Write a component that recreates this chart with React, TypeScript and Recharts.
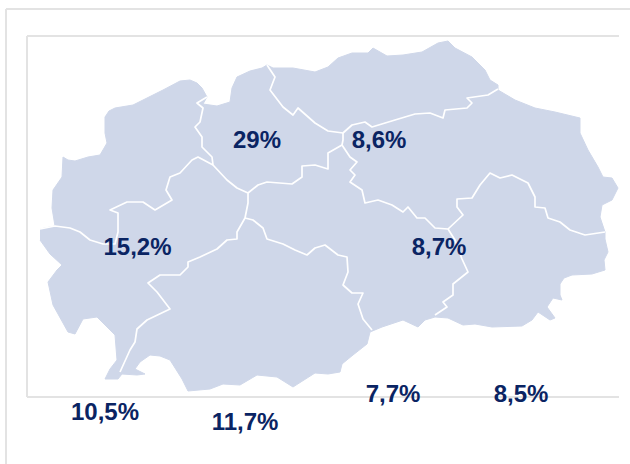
import { ScatterChart, Scatter, XAxis, YAxis, ReferenceLine, LabelList } from 'recharts';

type Pt = [number, number];

const outline: Pt[] = [
  [40, 229], [55, 226], [52, 208], [53, 190], [62, 177], [63, 157], [68, 160], [75, 161], [88, 157], [100, 155],
  [107, 143], [105, 133], [105, 117], [109, 111], [115, 108], [133, 105], [147, 98], [163, 90], [180, 81], [190, 80], [197, 83], [202, 88],
  [207, 97], [203, 104], [217, 106], [230, 102], [232, 88], [237, 77], [250, 71], [262, 68], [267, 65], [273, 68],
  [293, 68], [315, 72], [328, 67], [338, 58], [352, 53], [368, 53], [373, 48], [387, 56], [403, 55], [422, 52],
  [438, 43], [448, 41], [455, 48], [472, 57], [485, 70], [490, 80], [498, 85], [498, 90], [515, 100], [535, 108],
  [555, 112], [580, 118], [580, 133], [588, 150], [598, 167], [603, 177], [612, 178], [618, 188], [612, 200], [602, 205],
  [600, 217], [605, 232], [605, 239], [608, 252], [604, 260], [605, 270], [592, 274], [572, 275], [564, 278], [560, 284], [560, 295],
  [562, 300], [553, 298], [547, 307], [555, 318], [550, 320], [538, 312], [532, 320], [522, 326], [492, 327], [475, 324],
  [463, 325], [448, 318], [435, 317], [425, 320], [418, 327], [403, 320], [382, 327], [370, 332], [367, 344], [353, 355],
  [342, 364], [340, 372], [328, 374], [315, 373], [293, 387], [277, 377], [257, 375], [240, 385], [223, 384], [210, 389],
  [188, 391], [182, 379], [170, 360], [160, 356], [150, 355], [140, 362], [135, 369], [145, 374], [137, 375], [122, 374], [118, 379],
  [105, 379], [110, 369], [117, 360], [115, 335], [97, 317], [83, 319], [75, 334], [68, 332], [53, 305], [48, 282],
  [57, 270], [62, 265], [50, 254], [40, 240],
];

const borderWestCentre: Pt[] = [
  [207, 97], [197, 103], [203, 108], [200, 122], [195, 127], [202, 137], [202, 147], [212, 157], [213, 165], [227, 180],
  [237, 188], [248, 193], [248, 203], [245, 218], [237, 232], [237, 239], [227, 240], [217, 249], [200, 257], [188, 262],
  [188, 267], [180, 275], [160, 275], [148, 283], [157, 292], [170, 309], [147, 320], [137, 329], [135, 342], [130, 350],
  [120, 372],
];
const borderPolog: Pt[] = [
  [213, 165], [198, 157], [192, 160], [180, 173], [170, 177], [166, 190], [172, 200], [155, 210], [143, 202], [127, 202],
  [110, 210], [118, 213], [118, 232], [115, 244], [103, 244], [90, 240], [80, 232], [70, 228], [55, 226], [40, 229],
];
const borderSkopjeSouth: Pt[] = [
  [248, 193], [258, 185], [267, 182], [292, 184], [302, 177], [302, 166], [315, 165], [328, 169], [328, 153], [342, 145],
];
const borderSkopjeNorth: Pt[] = [
  [267, 65], [275, 77], [270, 90], [283, 107], [293, 115], [298, 108], [315, 123], [328, 131], [343, 133],
];
const borderNorthEast: Pt[] = [
  [343, 133], [352, 125], [365, 122], [372, 127], [395, 120], [415, 114], [430, 113], [443, 118], [445, 110], [467, 108],
  [472, 103], [467, 98], [488, 95], [498, 89],
];
const borderVardar: Pt[] = [
  [343, 133], [343, 140], [342, 145], [350, 157], [357, 162], [350, 170], [355, 175], [350, 182], [362, 190], [365, 203],
  [378, 200], [392, 205], [403, 212], [408, 207], [417, 218], [425, 218], [435, 228], [448, 229],
];
const borderEast: Pt[] = [
  [448, 229], [463, 215], [457, 207], [457, 199], [472, 198], [480, 185], [490, 173], [500, 178], [512, 175], [528, 183],
  [535, 197], [535, 207], [545, 208], [548, 218], [560, 222], [570, 230], [585, 235], [605, 232],
];
const borderSouthEast: Pt[] = [
  [448, 229], [455, 240], [462, 259], [468, 272], [453, 284], [453, 295], [443, 302], [447, 307], [435, 315],
];
const borderPelagonia: Pt[] = [
  [245, 218], [253, 220], [263, 228], [267, 239], [283, 244], [295, 250], [307, 255], [315, 248], [325, 245], [338, 255],
  [347, 257], [348, 272], [343, 285], [352, 293], [363, 293], [358, 304], [363, 319], [372, 330],
];

const borders = [
  borderWestCentre, borderPolog, borderSkopjeSouth, borderSkopjeNorth,
  borderNorthEast, borderVardar, borderEast, borderSouthEast, borderPelagonia,
];

const shareLabels = ['29%', '8,6%', '15,2%', '8,7%', '7,7%', '8,5%', '10,5%', '11,7%'];
const labelX = [257, 379, 137.5, 439, 393, 521, 105, 245];
const labelY = [139, 139, 246, 246, 393, 393, 411, 421];

const toPoints = (pts: Pt[]) => pts.map(([x, y]) => ({ x, y }));
const labelData = shareLabels.map((label, i) => ({ x: labelX[i], y: labelY[i], label }));

const FRAME = '#e3e3e3';
const MAP_FILL = '#cfd7e9';
const noMark = () => <g />;

export default function App() {
  return (
    <div style={{ position: 'absolute', left: 0, top: 0 }}>
      <ScatterChart width={630} height={464} margin={{ top: 0, right: 0, bottom: 0, left: 0 }}>
        <XAxis type="number" dataKey="x" domain={[0, 630]} hide />
        <YAxis type="number" dataKey="y" domain={[0, 464]} reversed hide />

        <ReferenceLine segment={[{ x: 6, y: 9 }, { x: 630, y: 9 }]} stroke={FRAME} strokeWidth={2} />
        <ReferenceLine segment={[{ x: 6, y: 9 }, { x: 6, y: 464 }]} stroke={FRAME} strokeWidth={2} />
        <ReferenceLine segment={[{ x: 27, y: 36 }, { x: 619, y: 36 }]} stroke={FRAME} strokeWidth={2} />
        <ReferenceLine segment={[{ x: 27, y: 36 }, { x: 27, y: 397 }]} stroke={FRAME} strokeWidth={2} />
        <ReferenceLine segment={[{ x: 27, y: 397 }, { x: 619, y: 397 }]} stroke={FRAME} strokeWidth={2} />

        <Scatter
          data={toPoints(outline)}
          shape={noMark}
          line={{ fill: MAP_FILL, stroke: MAP_FILL, strokeWidth: 1, strokeLinejoin: 'round', style: { filter: 'blur(0.7px)' } }}
          isAnimationActive={false}
        />
        {borders.map((border, i) => (
          <Scatter
            key={i}
            data={toPoints(border)}
            shape={noMark}
            line={{ fill: 'none', stroke: '#ffffff', strokeWidth: 1.7, strokeLinejoin: 'round', style: { filter: 'blur(0.4px)' } }}
            isAnimationActive={false}
          />
        ))}
        <Scatter data={labelData} shape={noMark} isAnimationActive={false}>
          <LabelList
            dataKey="label"
            position="center"
            fill="#0a2463"
            fontFamily="Liberation Sans"
            fontWeight="bold"
            fontSize={24}
          />
        </Scatter>
      </ScatterChart>
    </div>
  );
}
